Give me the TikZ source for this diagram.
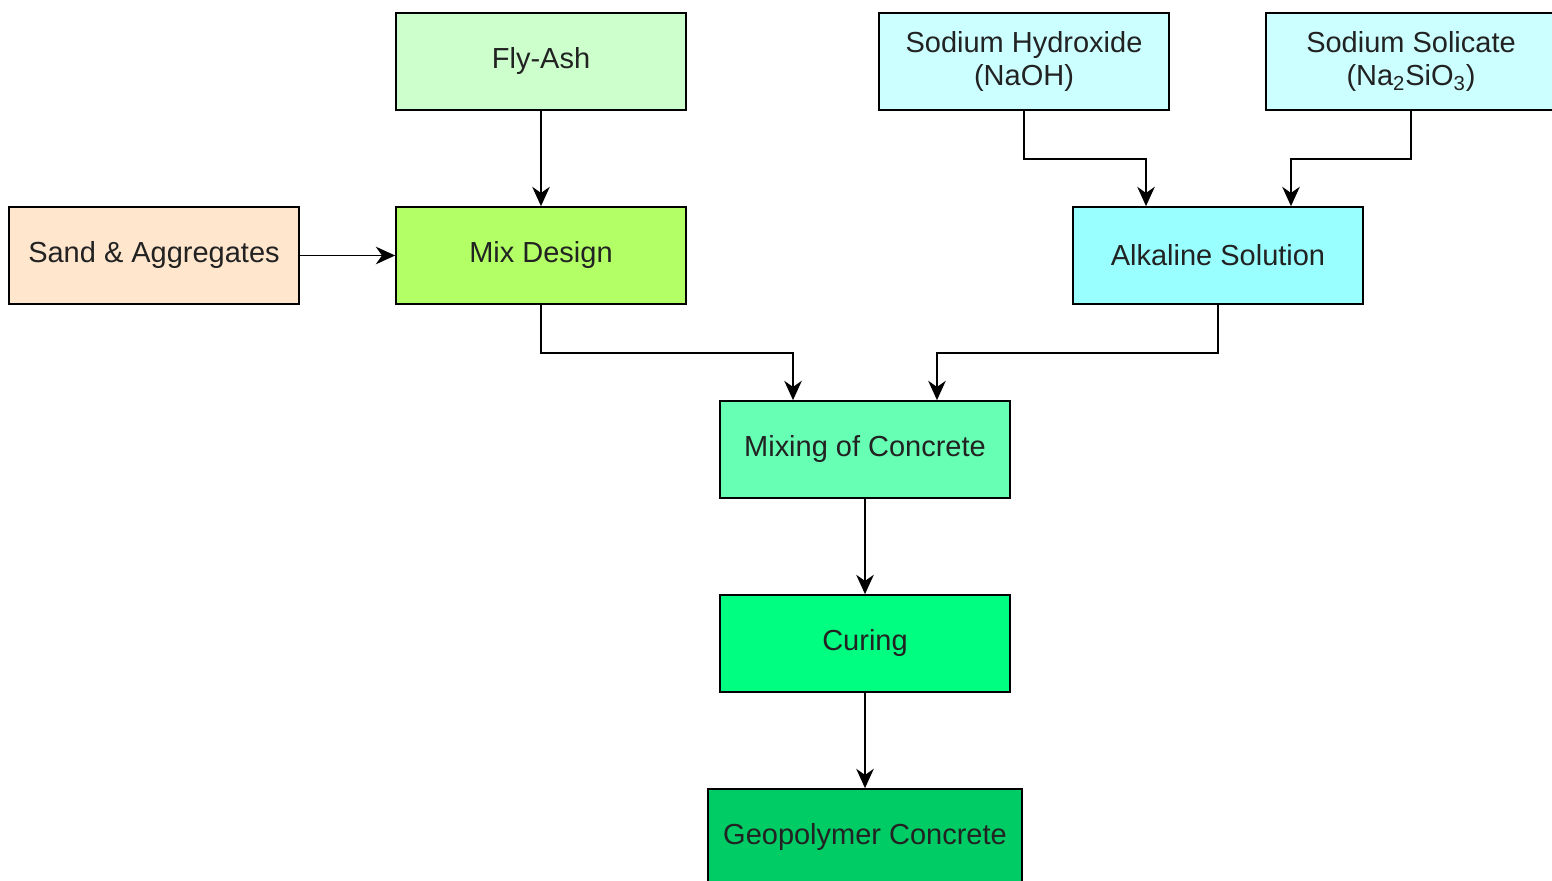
\documentclass[tikz,border=0pt]{standalone}
\usepackage{fontspec}
\setmainfont{Liberation Sans}
\usetikzlibrary{arrows.meta}
\usetikzlibrary{shapes}

\definecolor{flyash}{HTML}{CCFFCC}
\definecolor{sodium}{HTML}{CCFFFF}
\definecolor{sand}{HTML}{FFE6CC}
\definecolor{mixdes}{HTML}{B3FF66}
\definecolor{alkaline}{HTML}{99FFFF}
\definecolor{mixing}{HTML}{66FFB3}
\definecolor{curing}{HTML}{00FF80}
\definecolor{geopoly}{HTML}{00CC66}
\definecolor{txt}{HTML}{222222}

\begin{document}
\begin{tikzpicture}[x = 0.02cm, y = -0.02cm, font=\fontsize{16.5}{19}\selectfont, text = txt]
	\tikzstyle{boxStyle}=[shape = rectangle, minimum width = 5.8cm, minimum height = 1.94cm, inner sep = 2pt, draw, line width = 1pt, align = center]
	\tikzstyle{flowStyle}=[draw, line width = 1pt, -{Stealth[length = 11pt, width = 10pt, inset = 3.5pt]}]
	\useasboundingbox (0,0) rectangle (1552,881);
	\node[boxStyle, fill = flyash] (fa) at (541,61.5) {Fly-Ash};
	\node[boxStyle, fill = sodium] (naoh) at (1024,61.5) {Sodium Hydroxide\\(NaOH)};
	\node[boxStyle, fill = sodium] (nasio) at (1411,61.5) {Sodium Solicate\\(Na\textsubscript{2}SiO\textsubscript{3})};
	\node[boxStyle, fill = sand] (sand) at (154,255.5) {Sand \& Aggregates};
	\node[boxStyle, fill = mixdes] (mix) at (541,255.5) {Mix Design};
	\node[boxStyle, fill = alkaline] (alk) at (1218,255.5) {Alkaline Solution};
	\node[boxStyle, fill = mixing] (mxc) at (865,449.5) {Mixing of Concrete};
	\node[boxStyle, fill = curing] (cure) at (865,643.5) {Curing};
	\node[boxStyle, fill = geopoly, minimum width = 6.28cm] (geo) at (865,837.5) {Geopolymer Concrete};

	\draw[flowStyle] (fa) -- (mix);
	\draw[flowStyle] (sand) -- (mix);
	\draw[flowStyle] (naoh.south) -- ++(0,48) -| ([xshift = -1.44cm]alk.north);
	\draw[flowStyle] (nasio.south) -- ++(0,48) -| ([xshift = 1.46cm]alk.north);
	\draw[flowStyle] (mix.south) -- ++(0,48) -| ([xshift = -1.44cm]mxc.north);
	\draw[flowStyle] (alk.south) -- ++(0,48) -| ([xshift = 1.44cm]mxc.north);
	\draw[flowStyle] (mxc) -- (cure);
	\draw[flowStyle] (cure) -- (geo);
\end{tikzpicture}
\end{document}
